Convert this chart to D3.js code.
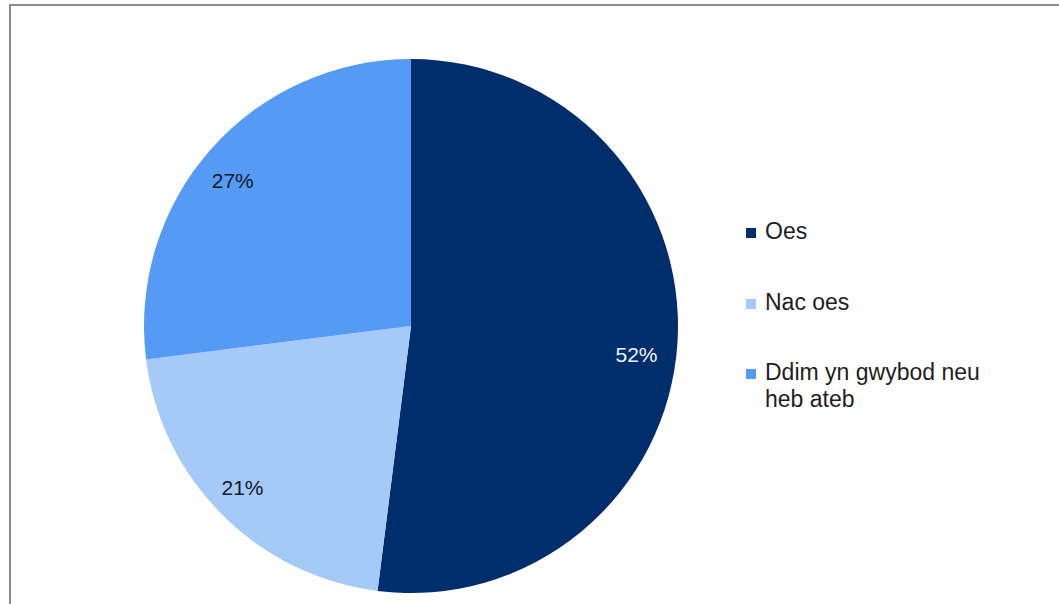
<!DOCTYPE html>
<html>
<head>
<meta charset="utf-8">
<script src="https://cdn.jsdelivr.net/npm/d3@7"></script>
<style>
html,body{margin:0;padding:0;background:#fff;}
svg{display:block;}
</style>
</head>
<body>
<svg id="chart" width="1059" height="604"></svg>
<script>
const categories = ["Oes", "Nac oes", "Ddim yn gwybod neu heb ateb"];
const legendLines = [["Oes"], ["Nac oes"], ["Ddim yn gwybod neu", "heb ateb"]];
const values = [52, 21, 27];
const colors = ["#002D6B", "#A6CAF7", "#559BF6"];
const labelColors = ["#F0F4FA", "#10182A", "#10182A"];
const labelNudge = [[-1, 14], [-8, 1], [-8, 5]];

const svg = d3.select("#chart");

// frame
svg.append("path")
  .attr("d", "M10,606 L10,5 L1062,5")
  .attr("fill", "none")
  .attr("stroke", "#8a8a8a")
  .attr("stroke-width", 2);

const cx = 411, cy = 326, r = 267;
const pie = d3.pie().sort(null).value(d => d)(values);
const arc = d3.arc().innerRadius(0).outerRadius(r);
const labelArc = d3.arc().innerRadius(r * 0.85).outerRadius(r * 0.85);

const g = svg.append("g").attr("transform", `translate(${cx},${cy})`);
g.selectAll("path.slice").data(pie).join("path")
  .attr("class", "slice")
  .attr("d", arc)
  .attr("fill", (d, i) => colors[i]);

g.selectAll("text.pct").data(pie).join("text")
  .attr("class", "pct")
  .attr("transform", (d, i) => {
    const [x, y] = labelArc.centroid(d);
    return `translate(${x + labelNudge[i][0]},${y + labelNudge[i][1]})`;
  })
  .attr("text-anchor", "middle")
  .attr("dominant-baseline", "central")
  .attr("font-family", "Liberation Sans, Arial, sans-serif")
  .attr("font-size", 21)
  .attr("fill", (d, i) => labelColors[i])
  .text(d => d.data + "%");

// legend
const legY = [239, 310, 380];
const lg = svg.append("g");
categories.forEach((c, i) => {
  lg.append("rect")
    .attr("x", 746).attr("y", legY[i] - 11)
    .attr("width", 10).attr("height", 10)
    .attr("fill", colors[i]);
  const t = lg.append("text")
    .attr("x", 765).attr("y", legY[i])
    .attr("font-family", "Liberation Sans, Arial, sans-serif")
    .attr("font-size", 23)
    .attr("fill", "#1e1e1e");
  legendLines[i].forEach((ln, j) => {
    t.append("tspan").attr("x", 765).attr("dy", j === 0 ? 0 : 27).text(ln);
  });
});
</script>
</body>
</html>
